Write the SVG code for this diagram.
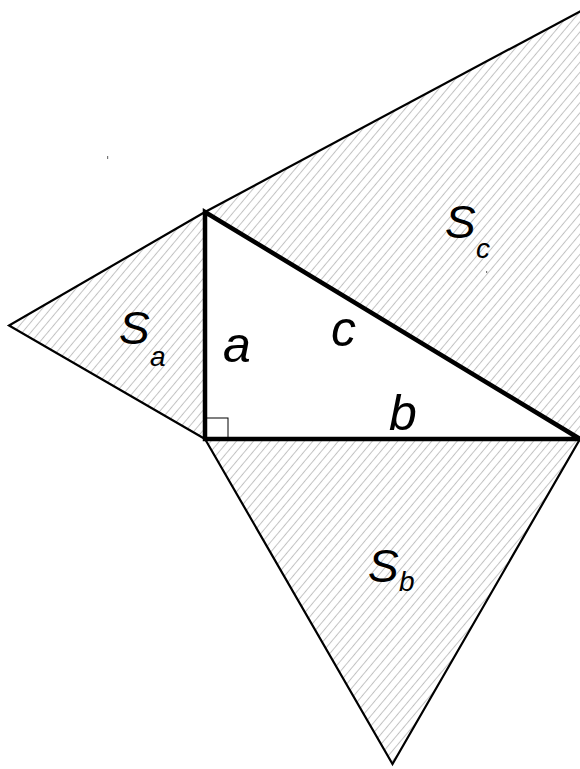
<svg xmlns="http://www.w3.org/2000/svg" width="580" height="769" viewBox="0 0 580 769">
<style>
.hatch{fill:url(#h);stroke:none}
.side{fill:none;stroke:#000;stroke-width:2.2;stroke-linejoin:miter}
.tri{fill:none;stroke:#000;stroke-width:4.5;stroke-linejoin:miter}
.lbl{font-family:"Liberation Sans",Arial,sans-serif;font-style:italic;fill:#000}
</style>
<defs>
<pattern id="h" patternUnits="userSpaceOnUse" width="6.5" height="10" patternTransform="rotate(40)">
<line x1="3.25" y1="-1" x2="3.25" y2="11" stroke="#c2c2c2" stroke-width="1"/>
</pattern>
</defs>
<rect width="580" height="769" fill="#fff"/>
<g id="Sa">
<polygon class="hatch" points="205,212 205,439 9,325.5"/>
<polyline class="side" points="205,212 9,325.5 205,439"/>
</g>
<g id="Sb">
<polygon class="hatch" points="205,439 580,439 392.5,764"/>
<polyline class="side" points="205,439 392.5,764 580,439"/>
</g>
<g id="Sc">
<polygon class="hatch" points="205,212 592,5 600,439 580,439"/>
<line class="side" x1="205" y1="212" x2="592" y2="5"/>
</g>
<g id="triangle">
<polygon class="tri" points="205,212 205,439 580,439"/>
<rect x="206" y="418" width="22" height="21" fill="none" stroke="#000" stroke-width="1"/>
</g>
<g id="labels">
<text class="lbl" x="119" y="344" font-size="46">S</text>
<text class="lbl" x="150" y="366" font-size="28">a</text>
<text class="lbl" x="445" y="238" font-size="46">S</text>
<text class="lbl" x="476" y="258" font-size="28">c</text>
<text class="lbl" x="368" y="582" font-size="46">S</text>
<text class="lbl" x="399" y="591" font-size="28">b</text>
<text class="lbl" x="223" y="362" font-size="50">a</text>
<text class="lbl" x="331" y="346" font-size="50">c</text>
<text class="lbl" x="389" y="430" font-size="50">b</text>
</g>
<rect x="107" y="156" width="1.2" height="3" fill="#777"/>
<rect x="486" y="271" width="1.2" height="2" fill="#777"/>
</svg>
